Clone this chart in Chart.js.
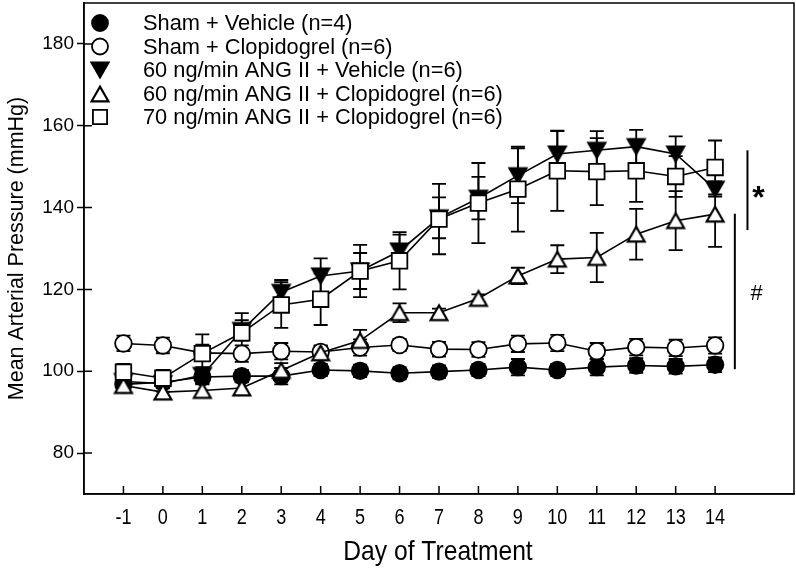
<!DOCTYPE html>
<html><head><meta charset="utf-8">
<script src="https://cdn.jsdelivr.net/npm/chart.js@4/dist/chart.umd.min.js"></script>
<style>html,body{margin:0;padding:0;background:#fff}</style>
</head><body>
<canvas id="c" width="796" height="572"></canvas>
<script>
// ---- data ----
const days = [-1,0,1,2,3,4,5,6,7,8,9,10,11,12,13,14];
const yTickValues = [80,100,120,140,160,180];
const xTitle = 'Day of Treatment';
const yTitle = 'Mean Arterial Pressure (mmHg)';
const labels = [
  'Sham + Vehicle (n=4)',
  'Sham + Clopidogrel (n=6)',
  '60 ng/min ANG II + Vehicle (n=6)',
  '60 ng/min ANG II + Clopidogrel (n=6)',
  '70 ng/min ANG II + Clopidogrel (n=6)'
];
const shamVehicle      = [96.8, 97.3, 98.6, 98.8, 98.8, 100.3, 100.1, 99.5, 99.9, 100.3, 101.0, 100.3, 101.0, 101.4, 101.2, 101.6];
const shamVehicleErr   = [1.8, 1.5, 1.5, 1.5, 2.0, 1.5, 1.5, 1.5, 1.5, 1.5, 2.0, 1.5, 2.0, 1.8, 1.8, 1.8];
const shamClop         = [106.8, 106.3, 104.5, 104.3, 104.9, 104.7, 105.8, 106.4, 105.4, 105.3, 106.7, 106.9, 104.9, 105.9, 105.7, 106.3];
const shamClopErr      = [1.9, 1.9, 2.0, 2.0, 2.0, 1.5, 2.0, 1.5, 1.8, 1.8, 2.0, 2.0, 2.0, 2.0, 2.0, 2.0];
const ang60Vehicle     = [97.5, 97.0, 99.0, 110.0, 119.3, 123.3, 124.5, 129.4, 137.5, 142.3, 147.8, 153.1, 154.0, 154.9, 153.1, 144.5];
const ang60VehicleErr  = [2.0, 2.0, 2.0, 2.5, 3.0, 4.3, 4.4, 4.0, 5.0, 5.2, 6.7, 5.6, 4.7, 4.1, 4.3, 1.8];
const ang60Clop        = [96.5, 94.9, 95.3, 95.9, 100.2, 104.5, 107.5, 114.3, 114.3, 117.8, 123.3, 127.4, 127.8, 133.5, 136.8, 138.4];
const ang60ClopErr     = [1.5, 1.5, 1.5, 1.5, 1.8, 1.8, 2.6, 2.3, 1.0, 1.0, 2.0, 3.4, 6.0, 6.2, 7.2, 8.0];
const ang70Clop        = [99.8, 98.3, 104.3, 109.4, 116.2, 117.6, 124.5, 127.0, 137.2, 141.1, 144.5, 149.0, 148.8, 149.0, 147.6, 149.8];
const ang70ClopErr     = [2.0, 2.0, 4.7, 4.8, 5.6, 6.3, 6.4, 7.0, 8.6, 9.8, 10.4, 9.8, 8.2, 7.6, 5.0, 6.6];

// significance brackets (data units)
const starBar  = {x: 14.82, from: 134.5, to: 154.0, text: '*', tx: 15.1, ty: 143.5};
const hashBar  = {x: 14.5,  from: 100.5, to: 138.5, text: '#', tx: 15.05, ty: 119.0};

const FONT = "'Liberation Sans', Arial, sans-serif";

function pts(arr){ return arr.map((v,i)=>({x:days[i], y:v})); }

// triangle symbols centred on their bounding box
function triangleSymbol(down, fill){
  const c = document.createElement('canvas');
  c.width = 22; c.height = 20;
  const g = c.getContext('2d');
  const cx = 11, cy = 10, w = 17, h = 14.7;
  g.beginPath();
  if (down){ g.moveTo(cx, cy+h/2); g.lineTo(cx+w/2, cy-h/2); g.lineTo(cx-w/2, cy-h/2); }
  else     { g.moveTo(cx, cy-h/2); g.lineTo(cx+w/2, cy+h/2); g.lineTo(cx-w/2, cy+h/2); }
  g.closePath();
  g.fillStyle = fill; g.fill();
  g.lineWidth = 2.1; g.strokeStyle = '#000'; g.lineJoin='miter'; g.stroke();
  return c;
}
const triDown = triangleSymbol(true, '#000');
const triUp = triangleSymbol(false, '#fff');

const seriesVals = [shamVehicle, shamClop, ang60Vehicle, ang60Clop, ang70Clop];
const seriesErr  = [shamVehicleErr, shamClopErr, ang60VehicleErr, ang60ClopErr, ang70ClopErr];
const styles = [
  {pointStyle:'circle', bg:'#000', r:8.3},
  {pointStyle:'circle', bg:'#fff', r:8.3},
  {pointStyle:triDown,  bg:'#000', r:10},
  {pointStyle:triUp,    bg:'#fff', r:10},
  {pointStyle:'rect',   bg:'#fff', r:11}
];

const datasets = seriesVals.map((vals,k)=>({
  label: labels[k],
  data: pts(vals),
  borderColor:'#000',
  borderWidth:1.6,
  pointStyle: styles[k].pointStyle,
  pointRadius: styles[k].r,
  pointBackgroundColor: styles[k].bg,
  pointBorderColor:'#000',
  pointBorderWidth:1.8,
  fill:false,
  tension:0,
  order: 5-k,
  errs: seriesErr[k]
}));

const errorBars = {
  id:'errorBars',
  beforeDatasetsDraw(chart){
    const {ctx, scales:{x,y}} = chart;
    ctx.save();
    ctx.strokeStyle='#000'; ctx.lineWidth=1.8;
    chart.data.datasets.forEach((ds)=>{
      ds.data.forEach((p,i)=>{
        const e = ds.errs[i];
        const px = x.getPixelForValue(p.x);
        const yt = y.getPixelForValue(p.y+e), yb = y.getPixelForValue(p.y-e);
        ctx.beginPath();
        ctx.moveTo(px,yt); ctx.lineTo(px,yb);
        ctx.moveTo(px-7,yt); ctx.lineTo(px+7,yt);
        ctx.moveTo(px-7,yb); ctx.lineTo(px+7,yb);
        ctx.stroke();
      });
    });
    ctx.restore();
  }
};

const frame = {
  id:'frame',
  afterDraw(chart){
    const {ctx, chartArea:a, scales:{x,y}} = chart;
    ctx.save();
    ctx.strokeStyle='#000'; ctx.lineWidth=1.5;
    ctx.strokeRect(a.left, a.top, a.right-a.left, a.bottom-a.top);
    // inward ticks
    ctx.beginPath();
    y.ticks.forEach(t=>{ const py=y.getPixelForValue(t.value); ctx.moveTo(a.left,py); ctx.lineTo(a.left+8,py); });
    x.ticks.forEach(t=>{ const px=x.getPixelForValue(t.value); ctx.moveTo(px,a.bottom); ctx.lineTo(px,a.bottom-8); });
    ctx.stroke();
    // x tick labels and title (condensed face)
    ctx.fillStyle='#000'; ctx.textAlign='center'; ctx.textBaseline='middle';
    ctx.font = "22px "+FONT;
    x.ticks.forEach(t=>{
      const px=x.getPixelForValue(t.value);
      ctx.save(); ctx.translate(px, a.bottom+24); ctx.scale(0.82,1);
      ctx.fillText(String(t.value),0,0); ctx.restore();
    });
    ctx.font = "28px "+FONT;
    ctx.save(); ctx.translate((a.left+a.right)/2 - 1, a.bottom+58); ctx.scale(0.88,1);
    ctx.fillText(xTitle,0,0); ctx.restore();
    // significance bars
    ctx.lineWidth=2;
    [starBar, hashBar].forEach(b=>{
      const px=x.getPixelForValue(b.x);
      ctx.beginPath(); ctx.moveTo(px,y.getPixelForValue(b.from)); ctx.lineTo(px,y.getPixelForValue(b.to)); ctx.stroke();
    });
    ctx.font = "bold 32px "+FONT;
    ctx.fillText(starBar.text, x.getPixelForValue(starBar.tx), y.getPixelForValue(starBar.ty)+6);
    ctx.font = "22px "+FONT;
    ctx.fillText(hashBar.text, x.getPixelForValue(hashBar.tx), y.getPixelForValue(hashBar.ty));
    // legend
    ctx.font = "21.8px "+FONT; ctx.textAlign='left';
    chart.data.datasets.forEach((ds,k)=>{
      const ly = a.top + 20 + k*23.5;
      const lx = a.left+16;
      const st = styles[k].pointStyle;
      if (typeof st === 'string'){
        ctx.fillStyle = styles[k].bg; ctx.strokeStyle='#000'; ctx.lineWidth=1.8;
        const r = st==='rect' ? 10 : 8;
        Chart.helpers.drawPoint(ctx, {pointStyle:st, rotation:0, radius:r, borderWidth:1.8}, lx, ly);
      } else {
        ctx.drawImage(st, Math.round(lx - st.width/2), Math.round(ly - st.height/2));
      }
      ctx.fillStyle='#000';
      ctx.fillText(ds.label, a.left+59, ly+1);
    });
    ctx.restore();
  }
};

Chart.defaults.font.family = FONT;
Chart.defaults.color = '#000';

const chart = new Chart(document.getElementById('c'), {
  type:'line',
  data:{ datasets },
  options:{
    responsive:false,
    animation:false,
    devicePixelRatio:1,
    layout:{ autoPadding:false, padding:{top:3, right:2, left:0, bottom:0} },
    plugins:{ legend:{display:false}, tooltip:{enabled:false} },
    scales:{
      x:{
        type:'linear', min:-2, max:16,
        afterBuildTicks:(s)=>{ s.ticks = days.map(v=>({value:v})); },
        afterFit:(s)=>{ s.height = 78; s.paddingLeft = 0; s.paddingRight = 0; },
        grid:{ drawOnChartArea:false, drawTicks:false },
        border:{ display:true, color:'#000', width:1.5 },
        ticks:{ display:false },
        title:{ display:false, text:xTitle }
      },
      y:{
        min:70, max:190,
        afterBuildTicks:(s)=>{ s.ticks = yTickValues.map(v=>({value:v})); },
        afterFit:(s)=>{ s.width = 84; s.paddingTop = 0; s.paddingBottom = 0; },
        grid:{ drawOnChartArea:false, drawTicks:true, tickLength:7, tickWidth:1.5, tickColor:'#000' },
        border:{ display:true, color:'#000', width:1.5 },
        ticks:{ font:{size:19}, padding:3 },
        title:{ display:true, text:yTitle, font:{size:21.5}, padding:{top:4,bottom:4} }
      }
    }
  },
  plugins:[errorBars, frame]
});
</script>
</body></html>
